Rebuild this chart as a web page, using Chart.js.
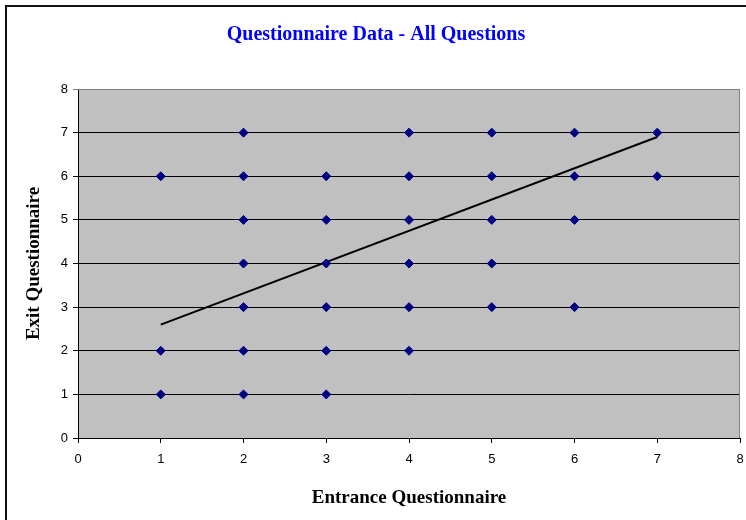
<!DOCTYPE html>
<html lang="en">
<head>
    <meta charset="UTF-8">
    <title>Questionnaire Data - All Questions</title>
    <script src="https://cdn.jsdelivr.net/npm/chart.js"></script>
    <style>
        html, body { margin: 0; padding: 0; background: #fff; overflow: hidden; }
        .frame {
            position: absolute; left: 5px; top: 5px;
            width: 800px; height: 600px;
            border-left: 2px solid #111; border-top: 2px solid #111;
        }
        .chart-box { position: absolute; left: 0; top: 0; width: 746px; height: 520px; }
    </style>
</head>
<body>
    <div class="frame"></div>
    <div class="chart-box">
        <canvas id="qChart" width="746" height="520"></canvas>
    </div>

    <script>
        // entrance score (x) and exit score (y) for each answer
        const entranceScores = [1, 1, 1, 2, 2, 2, 2, 2, 2, 2, 3, 3, 3, 3, 3, 3, 4, 4, 4, 4, 4, 4, 5, 5, 5, 5, 5, 6, 6, 6, 6, 7, 7];
        const exitScores     = [1, 2, 6, 1, 2, 3, 4, 5, 6, 7, 1, 2, 3, 4, 5, 6, 2, 3, 4, 5, 6, 7, 3, 4, 5, 6, 7, 3, 5, 6, 7, 6, 7];

        // linear trend line end points
        const trendX = [1, 7];
        const trendY = [2.6, 6.9];

        const axisTicks = [0, 1, 2, 3, 4, 5, 6, 7, 8];

        const points = entranceScores.map((x, i) => ({ x: x, y: exitScores[i] }));
        const trend = trendX.map((x, i) => ({ x: x, y: trendY[i] }));

        // grey plot area with a thin grey frame top/right
        const plotArea = {
            id: 'plotArea',
            beforeDraw(chart) {
                const { ctx, chartArea: a } = chart;
                ctx.save();
                ctx.fillStyle = '#c0c0c0';
                ctx.fillRect(a.left, a.top, a.right - a.left, a.bottom - a.top);
                ctx.restore();
            },
            beforeDatasetsDraw(chart) {
                const { ctx, chartArea: a } = chart;
                ctx.save();
                ctx.strokeStyle = '#808080';
                ctx.lineWidth = 1;
                ctx.beginPath();
                ctx.moveTo(a.left, a.top + 0.5);
                ctx.lineTo(a.right - 0.5, a.top + 0.5);
                ctx.lineTo(a.right - 0.5, a.bottom);
                ctx.stroke();
                ctx.restore();
            }
        };

        const tickFont = { family: 'Liberation Sans, Arial, sans-serif', size: 13 };
        const titleFont = { family: 'Liberation Serif, Times New Roman, serif', size: 19, weight: 'bold' };

        new Chart(document.getElementById('qChart'), {
            type: 'scatter',
            data: {
                datasets: [
                    {
                        label: 'Answers',
                        data: points,
                        pointStyle: 'rectRot',
                        pointRadius: 4.5,
                        pointBackgroundColor: '#000080',
                        pointBorderColor: '#000080',
                        pointBorderWidth: 1
                    },
                    {
                        type: 'line',
                        label: 'Trend',
                        data: trend,
                        borderColor: '#000000',
                        borderWidth: 2,
                        pointRadius: 0,
                        fill: false
                    }
                ]
            },
            plugins: [plotArea],
            options: {
                responsive: false,
                animation: false,
                layout: { padding: { left: 12, right: 6, top: 0, bottom: 0 } },
                plugins: {
                    legend: { display: false },
                    tooltip: { enabled: false },
                    title: {
                        display: true,
                        text: 'Questionnaire Data - All Questions',
                        color: '#0000ff',
                        font: { family: 'Liberation Serif, Times New Roman, serif', size: 20, weight: 'bold' },
                        padding: { top: 23, bottom: 42 }
                    }
                },
                scales: {
                    x: {
                        type: 'linear',
                        min: 0, max: 8,
                        afterBuildTicks: s => { s.ticks = axisTicks.map(v => ({ value: v })); },
                        afterFit: s => { s.height = 82; s.paddingLeft = 0; s.paddingRight = 0; },
                        grid: { drawOnChartArea: false, drawTicks: true, tickLength: 5, color: '#000' },
                        border: { color: '#000', width: 1 },
                        ticks: { color: '#000', font: tickFont, padding: 9, maxRotation: 0 },
                        title: {
                            display: true, text: 'Entrance Questionnaire', color: '#000',
                            font: titleFont, padding: { top: 0, bottom: 11 }
                        }
                    },
                    y: {
                        type: 'linear',
                        min: 0, max: 8,
                        afterBuildTicks: s => { s.ticks = axisTicks.map(v => ({ value: v })); },
                        afterFit: s => { s.width = 66; },
                        grid: {
                            drawTicks: true, tickLength: 5,
                            color: ctx => ctx.tick && ctx.tick.value === 8 ? '#808080' : '#000',
                            lineWidth: 1
                        },
                        border: { color: '#000', width: 1 },
                        ticks: { color: '#000', font: tickFont, padding: 5 },
                        title: {
                            display: true, text: 'Exit Questionnaire', color: '#000',
                            font: titleFont, padding: { top: 11, bottom: 0 }
                        }
                    }
                }
            }
        });
    </script>
</body>
</html>
